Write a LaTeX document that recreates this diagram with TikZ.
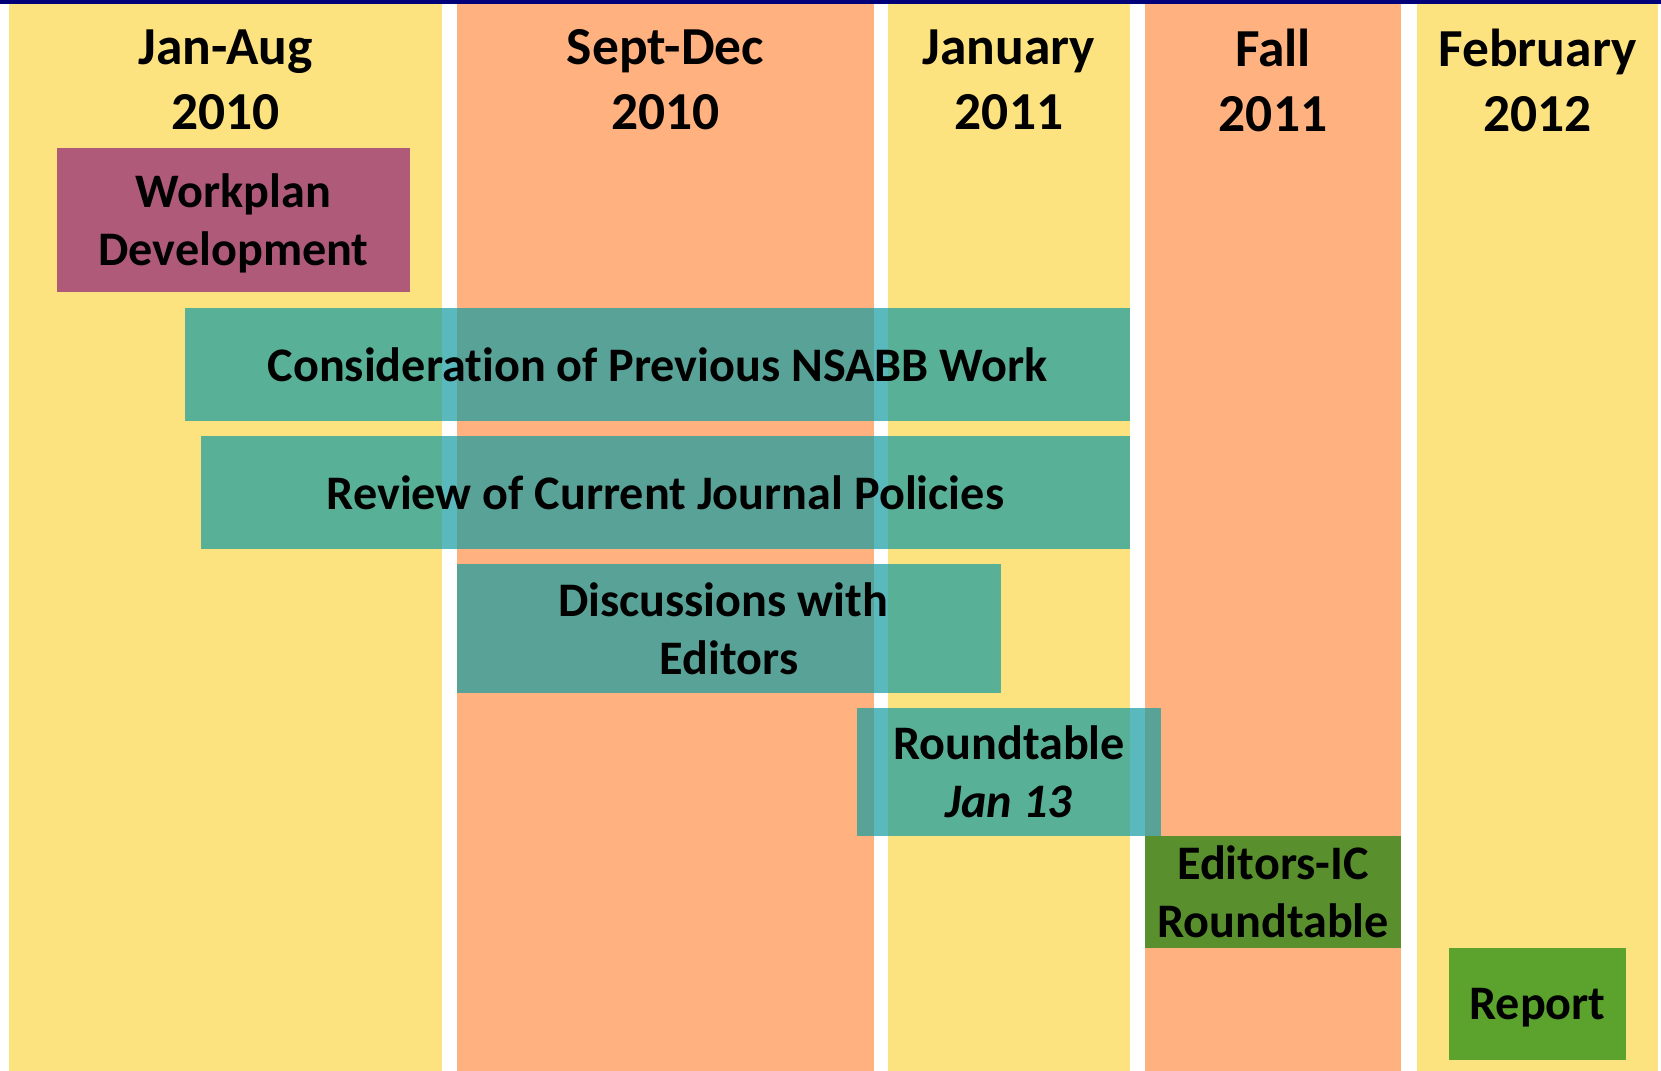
\documentclass[tikz,border=0pt]{standalone}
\usepackage{fontspec}
\setmainfont[Ligatures=NoCommon]{Carlito}
\usepackage{tikz}
\usetikzlibrary{positioning}
\definecolor{tlyellow}{RGB}{253,227,127}
\definecolor{tlorange}{RGB}{255,177,127}
\definecolor{tlnavy}{RGB}{0,0,120}
\definecolor{tlteal}{RGB}{19,156,162}
\definecolor{tlmauve}{RGB}{176,90,122}
\definecolor{tlolive}{RGB}{90,143,46}
\definecolor{tlgreen}{RGB}{92,163,46}
\tikzstyle{period} = [rectangle, inner sep=0pt, minimum height=10.67cm]
\tikzstyle{heading} = [align=center, inner sep=0pt, font=\fontsize{15.2}{18.5}\selectfont\bfseries]
\tikzstyle{task} = [rectangle, inner sep=0pt, align=center, font=\fontsize{13.7}{16.5}\selectfont\bfseries]
\tikzstyle{shared} = [task, fill=tlteal, fill opacity=0.7, text opacity=1]

\begin{document}
\begin{tikzpicture}[x=0.01cm, y=-0.01cm]
\useasboundingbox (0,0) rectangle (1661,1071);
\fill[white] (0,0) rectangle (1661,1071);

% Periods
\node (jan10) [period, fill=tlyellow, minimum width=4.33cm] at (225.5,537.5) {};
\node (sep10) [period, fill=tlorange, minimum width=4.17cm] at (665.5,537.5) {};
\node (jan11) [period, fill=tlyellow, minimum width=2.42cm] at (1009,537.5) {};
\node (fall11) [period, fill=tlorange, minimum width=2.56cm] at (1273,537.5) {};
\node (feb12) [period, fill=tlyellow, minimum width=2.41cm] at (1537.5,537.5) {};
\fill[tlnavy] (0,0) rectangle (1661,4.5);

% Headings
\node (jan10head) [heading] at (225.5,80) {Jan-Aug\\2010};
\node (sep10head) [heading] at (665.5,80) {Sept-Dec\\2010};
\node (jan11head) [heading] at (1009,80) {January\\2011};
\node (fall11head) [heading] at (1273,80) {Fall\\2011};
\node (feb12head) [heading] at (1537.5,80) {February\\2012};

% Tasks
\node (workplan) [task, fill=tlmauve, minimum width=3.53cm, minimum height=1.44cm, text depth=0pt] at (233.5,220) {Workplan\\Development};
\node (previous) [shared, minimum width=9.45cm, minimum height=1.13cm] at (657.5,364.5) {Consideration of Previous NSABB Work};
\node (policies) [shared, minimum width=9.29cm, minimum height=1.13cm] at (665.5,492.5) {Review of Current Journal Policies};
\node (editors) [shared, minimum width=5.44cm, minimum height=1.29cm] at (729,628.5) {Discussions with\hspace*{.25em}\\Editors};
\node (roundtable) [shared, minimum width=3.04cm, minimum height=1.28cm] at (1009,772) {Roundtable\\\textit{Jan 13}};
\node (icroundtable) [task, fill=tlolive, minimum width=2.56cm, minimum height=1.12cm] at (1273,892) {Editors-IC\\Roundtable};
\node (report) [task, fill=tlgreen, minimum width=1.77cm, minimum height=1.12cm, text depth=0pt] at (1537.5,1004) {Report};
\end{tikzpicture}
\end{document}
